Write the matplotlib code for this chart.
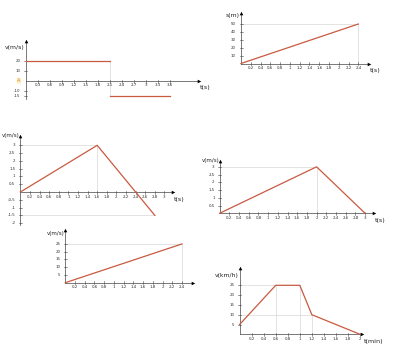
import matplotlib
matplotlib.use("Agg")
import matplotlib.pyplot as plt
import numpy as np

W, H = 397, 359
RED = "#c85a40"
AX = "#444444"
GUIDE = "#d8d8d8"

# ---------------- data ----------------
# chart 1: v(t) step
c1_t1 = [0, 2.1]
c1_v1 = [20, 20]
c1_t2 = [2.1, 3.6]
c1_v2 = [-15, -15]
c1_xticks = [0.3, 0.6, 0.9, 1.2, 1.5, 1.8, 2.1, 2.4, 2.7, 3, 3.3, 3.6]
c1_yticks = [20, 10, -10, -15]

# chart 2: s(t)
c2_t = [0, 2.4]
c2_s = [0, 50]
c2_xticks = [0.2, 0.4, 0.6, 0.8, 1, 1.2, 1.4, 1.6, 1.8, 2, 2.2, 2.4]
c2_yticks = [10, 20, 30, 40, 50]

# chart 3: v(t) triangle going negative
c3_t = [0, 1.6, 2.8]
c3_v = [0, 3, -1.5]
c3_xticks = [0.2, 0.4, 0.6, 0.8, 1, 1.2, 1.4, 1.6, 1.8, 2, 2.2, 2.4, 2.6, 2.8, 3]
c3_yticks = [-2, -1.5, -1, -0.5, 0.5, 1, 1.5, 2, 2.5, 3]

# chart 4: v(t) triangle
c4_t = [0, 2, 3]
c4_v = [0, 3, 0]
c4_xticks = [0.2, 0.4, 0.6, 0.8, 1, 1.2, 1.4, 1.6, 1.8, 2, 2.2, 2.4, 2.6, 2.8, 3]
c4_yticks = [0.5, 1, 1.5, 2, 2.5, 3]

# chart 5: v(t) linear
c5_t = [0, 2.4]
c5_v = [0, 25]
c5_xticks = [0.2, 0.4, 0.6, 0.8, 1, 1.2, 1.4, 1.6, 1.8, 2, 2.2, 2.4]
c5_yticks = [5, 10, 15, 20, 25]

# chart 6: v(t) km/h vs min
c6_t = [0, 0.6, 1, 1.2, 2]
c6_v = [5, 25, 25, 10, 0]
c6_xticks = [0.2, 0.4, 0.6, 0.8, 1, 1.2, 1.4, 1.6, 1.8, 2]
c6_yticks = [5, 10, 15, 20, 25]

fig = plt.figure(figsize=(W / 100, H / 100), dpi=100)
fig.patch.set_facecolor("white")


def fmt(v):
    return ("%g" % v).replace(".", ",")


def make_ax(ox, oy, sx, sy, xmin, xmax, ymin, ymax):
    left = ox + xmin * sx
    right = ox + xmax * sx
    top = oy - ymax * sy
    bottom = oy - ymin * sy
    ax = fig.add_axes([left / W, 1 - bottom / H, (right - left) / W, (bottom - top) / H])
    ax.set_xlim(xmin, xmax)
    ax.set_ylim(ymin, ymax)
    ax.axis("off")
    return ax


def draw_axes(ax, sx, sy, xend, ytop, ybot, xticks, yticks, xlab, ylab,
              ylab_dy=6, ylab_dx=1, ylab_fs=4.4):
    ax.plot([0, xend], [0, 0], color=AX, lw=0.5, clip_on=False)
    ax.plot([0, 0], [ybot, ytop], color=AX, lw=0.5, clip_on=False)
    ax.plot([xend], [0], marker=">", color="black", ms=2.6, mew=0, clip_on=False)
    ax.plot([0], [ytop], marker="^", color="black", ms=2.6, mew=0, clip_on=False)
    tx = 1.5 / sy
    ty = 1.5 / sx
    for t in xticks:
        ax.plot([t, t], [-tx, tx], color=AX, lw=0.4, clip_on=False)
        ax.text(t, -4.5 / sy, fmt(t), fontsize=2.9, ha="center", va="center", color="#333333")
    for t in yticks:
        ax.plot([-ty, ty], [t, t], color=AX, lw=0.4, clip_on=False)
        ax.text(-5 / sx, t, fmt(t), fontsize=2.9, ha="right", va="center", color="#333333")
    if ylab:
        ax.text(-ylab_dx / sx, ytop - ylab_dy / sy, ylab, fontsize=ylab_fs,
                ha="right", va="center", color="#222222")
    if xlab:
        ax.text(xend + 1 / sx, -7 / sy, xlab, fontsize=4.6, ha="left", va="center", color="#222222")


def guide(ax, xs, ys):
    ax.plot(xs, ys, color=GUIDE, lw=0.5, clip_on=False, zorder=1)


# ---------- chart 1 ----------
ox, oy, sx, sy = 25.5, 81, 40.0, 1.0
ax1 = make_ax(ox, oy, sx, sy, -0.6, 4.4, -20, 42)
draw_axes(ax1, sx, sy, 4.34, 40, -18, c1_xticks, c1_yticks, "t(s)", "v(m/s)", ylab_dy=7)
guide(ax1, [2.1, 2.1], [20, -15])
ax1.plot(c1_t1, c1_v1, color=RED, lw=0.9, zorder=3)
ax1.plot(c1_t2, c1_v2, color=RED, lw=0.9, zorder=3)
ax1.text(-5 / sx, 0, "A", fontsize=3.6, ha="right", va="center", color="#e07a20",
         bbox=dict(boxstyle="square,pad=0.05", fc="#fff3c0", ec="none"))

# ---------- chart 2 ----------
ox, oy, sx, sy = 241, 63.5, 48.9, 0.79
ax2 = make_ax(ox, oy, sx, sy, -0.4, 2.8, -10, 66)
draw_axes(ax2, sx, sy, 2.62, 64, 0, c2_xticks, c2_yticks, "t(s)", "s(m)", ylab_dy=3)
guide(ax2, [0, 2.4, 2.4], [50, 50, 0])
ax2.plot(c2_t, c2_s, color=RED, lw=0.9, zorder=3)

# ---------- chart 3 ----------
ox, oy, sx, sy = 20.4, 192, 48.0, 15.56
ax3 = make_ax(ox, oy, sx, sy, -0.4, 3.5, -2.3, 3.7)
draw_axes(ax3, sx, sy, 3.18, 3.6, -2.1, c3_xticks, c3_yticks, "t(s)", "v(m/s)",
          ylab_dy=0, ylab_dx=0.5, ylab_fs=4.0)
guide(ax3, [0, 1.6, 1.6], [3, 3, 0])
guide(ax3, [0, 2.8], [-1.5, -1.5])
ax3.plot(c3_t, c3_v, color=RED, lw=0.9, zorder=3)

# ---------- chart 4 ----------
ox, oy, sx, sy = 219.6, 213.3, 48.5, 15.5
ax4 = make_ax(ox, oy, sx, sy, -0.4, 3.5, -0.8, 3.5)
draw_axes(ax4, sx, sy, 3.18, 3.4, 0, c4_xticks, c4_yticks, "t(s)", "v(m/s)",
          ylab_dy=-0.5, ylab_dx=0.5, ylab_fs=4.0)
guide(ax4, [0, 2, 2], [3, 3, 0])
ax4.plot(c4_t, c4_v, color=RED, lw=0.9, zorder=3)

# ---------- chart 5 ----------
ox, oy, sx, sy = 65.3, 282.7, 48.6, 1.55
ax5 = make_ax(ox, oy, sx, sy, -0.4, 2.8, -8, 35)
draw_axes(ax5, sx, sy, 2.63, 34, 0, c5_xticks, c5_yticks, None, "v(m/s)", ylab_dy=4, ylab_fs=4.0)
guide(ax5, [0, 2.4, 2.4], [25, 25, 0])
ax5.plot(c5_t, c5_v, color=RED, lw=0.9, zorder=3)

# ---------- chart 6 ----------
ox, oy, sx, sy = 239.6, 334.3, 60.2, 1.96
ax6 = make_ax(ox, oy, sx, sy, -0.4, 2.6, -8, 35)
draw_axes(ax6, sx, sy, 2.04, 33.8, 0, c6_xticks, c6_yticks, "t(min)", "v(km/h)", ylab_dy=7)
guide(ax6, [0, 1], [25, 25])
guide(ax6, [0.6, 0.6], [25, 0])
guide(ax6, [1, 1], [25, 0])
guide(ax6, [0, 1.2], [10, 10])
guide(ax6, [1.2, 1.2], [10, 0])
ax6.plot(c6_t, c6_v, color=RED, lw=0.9, zorder=3)

fig.savefig("out.png", dpi=100, facecolor="white")
